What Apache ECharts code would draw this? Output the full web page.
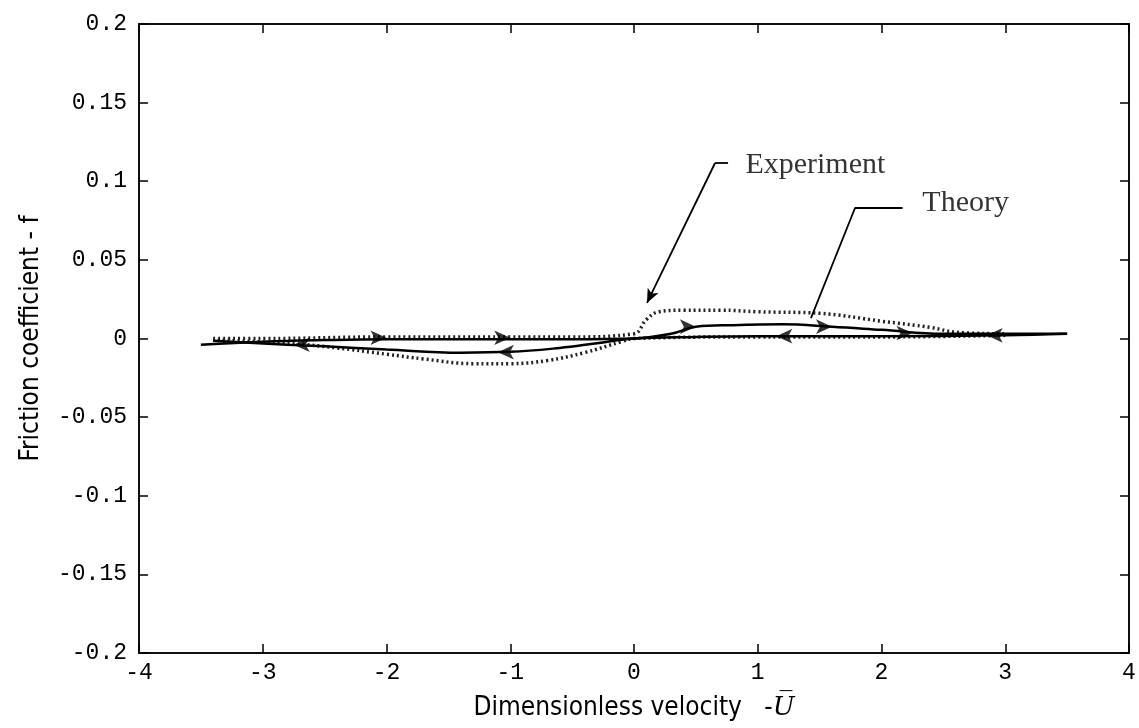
<!DOCTYPE html>
<html>
<head>
<meta charset="utf-8">
<script src="https://cdn.jsdelivr.net/npm/echarts@6/dist/echarts.min.js"></script>
<style>
html,body{margin:0;padding:0;background:#fff;}
#chart{width:1139px;height:728px;}
</style>
</head>
<body>
<div id="chart"></div>
<script>
// ---- data ----
const xTicks = [-4,-3,-2,-1,0,1,2,3,4];
const yTicks = [-0.2,-0.15,-0.1,-0.05,0,0.05,0.1,0.15,0.2];

// Theory (solid) - forward path (increasing velocity)
const theoryForward = [[-3.5,-0.004],[-3.0,-0.002],[-2.5,-0.001],[-2.0,-0.0005],[-1.5,-0.0005],[-1.0,-0.0005],[-0.5,-0.0005],[0,0],[0.3,0.003],[0.5,0.0075],[0.8,0.0085],[1.2,0.009],[1.6,0.0075],[2.0,0.0055],[2.5,0.003],[3.0,0.003],[3.5,0.003]];
// Theory (solid) - return path (decreasing velocity)
const theoryReturn = [[3.5,0.003],[3.0,0.002],[2.0,0.0015],[1.0,0.0015],[0.5,0.001],[0,0],[-0.3,-0.003],[-0.6,-0.006],[-1.0,-0.0085],[-1.4,-0.009],[-2.0,-0.007],[-2.5,-0.005],[-2.8,-0.004],[-3.4,-0.0015]];

// Experiment (dotted)
const expForward = [[-3.4,0.0],[-3.0,0.0],[-2.0,0.001],[-1.0,0.001],[-0.5,0.001],[0,0.003],[0.1,0.012],[0.2,0.017],[0.4,0.018],[0.7,0.018],[1.0,0.017],[1.5,0.016],[2.0,0.011],[2.4,0.007],[2.6,0.004],[3.0,0.003]];
const expReturn = [[3.0,0.002],[2.0,0.001],[1.0,0.001],[0,0],[-0.1,-0.002],[-0.4,-0.009],[-0.7,-0.014],[-1.0,-0.016],[-1.3,-0.016],[-1.7,-0.013],[-2.0,-0.010],[-2.4,-0.006],[-2.8,-0.003],[-3.4,-0.001]];

// Arrow heads on the theory loop
const arrowsRight = [[-2.0,0.0005],[-1.0,0.0005],[0.5,0.0075],[1.6,0.0075],[2.25,0.0035]];
const arrowsLeft  = [[-2.75,-0.004],[-1.1,-0.0087],[1.15,0.0015],[2.85,0.002]];

// Annotation leaders
const expLeaderText = [0.76,0.1116];
const expLeaderElbow = [0.655,0.1116];
const expLeaderTip = [0.105,0.0226];
const thLeaderText = [2.17,0.083];
const thLeaderElbow = [1.786,0.083];
const thLeaderTip = [1.43,0.013];
const labelExp = {pos:[0.9,0.110], text:'Experiment'};
const labelTh = {pos:[2.33,0.086], text:'Theory'};

// ---- chart ----
const tickFont = "'Liberation Mono', 'DejaVu Sans Mono', monospace";
const nameFont = "'DejaVu Sans Condensed', 'Liberation Sans Narrow', sans-serif";
const chart = echarts.init(document.getElementById('chart'));

const arrowItems = arrowsRight.map(p => ({value:p, symbolRotate:-90}))
  .concat(arrowsLeft.map(p => ({value:p, symbolRotate:90})));

const axisCommon = {
  axisLine:{show:true, onZero:false, lineStyle:{color:'#000', width:1.5}},
  axisTick:{show:true, inside:true, length:9, lineStyle:{color:'#000', width:1.5}},
  splitLine:{show:false}
};

chart.setOption({
  animation:false,
  backgroundColor:'#fff',
  grid:{left:139, right:10, top:24, bottom:75, show:true, borderColor:'#000', borderWidth:1.5},
  xAxis:[
    Object.assign({
      type:'value', min:-4, max:4, interval:1, position:'bottom',
      axisLabel:{color:'#000', fontSize:23, fontFamily:tickFont, margin:8, formatter:v=>String(v)},
      name:'{a|Dimensionless velocity   -}{u|U\u0305}',
      nameLocation:'middle', nameGap:42,
      nameTextStyle:{rich:{
        a:{fontSize:26, fontFamily:nameFont, color:'#000'},
        u:{fontSize:26, fontFamily:"'DejaVu Serif', serif", fontStyle:'italic', color:'#000'}
      }}
    }, axisCommon),
    Object.assign({
      type:'value', min:-0.2, max:0.2, interval:0.05, position:'top',
      min:-4, max:4, interval:1,
      axisLabel:{show:false}
    }, axisCommon)
  ],
  yAxis:[
    Object.assign({
      type:'value', min:-0.2, max:0.2, interval:0.05, position:'left',
      axisLabel:{color:'#000', fontSize:23, fontFamily:tickFont, margin:12,
        formatter:v=>{ const r=Math.round(v*100)/100; return String(r); }},
      name:'Friction coefficient - f', nameLocation:'middle', nameGap:95,
      nameTextStyle:{fontSize:26, fontFamily:nameFont, color:'#000'}
    }, axisCommon),
    Object.assign({
      type:'value', min:-0.2, max:0.2, interval:0.05, position:'right',
      axisLabel:{show:false}
    }, axisCommon)
  ],
  series:[
    {type:'line', name:'Experiment forward', data:expForward, smooth:0.4, symbol:'none',
      lineStyle:{color:'#222', width:3.5, type:[2,3]}, z:2},
    {type:'line', name:'Experiment return', data:expReturn, smooth:0.4, symbol:'none',
      lineStyle:{color:'#222', width:3.5, type:[2,3]}, z:2},
    {type:'line', name:'Theory forward', data:theoryForward, smooth:0.4, symbol:'none',
      lineStyle:{color:'#000', width:2.5}, z:3},
    {type:'line', name:'Theory return', data:theoryReturn, smooth:0.4, symbol:'none',
      lineStyle:{color:'#000', width:2.5}, z:3},
    {type:'scatter', name:'arrows', data:arrowItems, symbol:'arrow', symbolSize:[11,16],
      itemStyle:{color:'#000'}, z:4},
    {type:'line', name:'exp leader', data:[expLeaderText, expLeaderElbow], symbol:'none',
      lineStyle:{color:'#000', width:1.8}, z:5,
      markLine:{silent:true, symbol:['none','arrow'], symbolSize:[9,14],
        lineStyle:{color:'#000', width:1.8, type:'solid'}, label:{show:false},
        data:[[{coord:expLeaderElbow},{coord:expLeaderTip}]]}},
    {type:'line', name:'theory leader', data:[thLeaderText, thLeaderElbow, thLeaderTip], symbol:'none',
      lineStyle:{color:'#000', width:1.8}, z:5},
    {type:'scatter', name:'labels', symbolSize:0,
      data:[{value:labelExp.pos, name:labelExp.text},{value:labelTh.pos, name:labelTh.text}],
      label:{show:true, position:'right', distance:0, formatter:p=>p.name,
        fontSize:30, fontFamily:"'Liberation Serif', 'Times New Roman', serif", color:'#000'}, z:6}
  ]
});
</script>
</body>
</html>
